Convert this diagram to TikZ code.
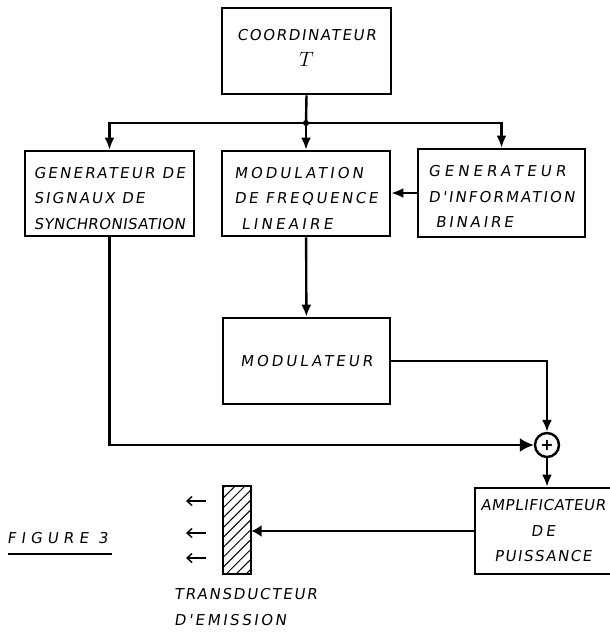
\documentclass[tikz,border=0pt]{standalone}
\usepackage{fontspec}
\setmainfont{DejaVu Sans}
\newfontfamily\handfont[LetterSpace=15,FakeSlant=0.15]{DejaVu Sans}
\newcommand{\esp}[1]{\addfontfeature{LetterSpace=#1}}
\usepackage{tikz}
\usetikzlibrary{arrows.meta}
\usetikzlibrary{patterns.meta}

\tikzset{
  bloc/.style={draw, line width=2.6pt, inner sep=1pt, align=left,
    font=\handfont\fontsize{15}{25.5}\selectfont},
  fleche/.style={line width=2.4pt, -{Latex[length=12pt,width=10pt]}},
  ecrit/.style={inner sep=0pt, font=\handfont\fontsize{15}{26}\selectfont},
}

\begin{document}
\begin{tikzpicture}[x=1pt,y=-1pt]
         \useasboundingbox (0,0) rectangle (610,632);
         \node[bloc, align=center, minimum width=169pt, minimum height=86pt] (coord) at (306.5,51)
              {{\esp{11}COORDINATEUR}\\{\fontsize{21}{25}\selectfont$T$}\rule[-6pt]{0pt}{1pt}};
         \node[bloc, minimum width=169pt, minimum height=85pt] (synchro) at (109.5,193.5)
              {\rule{0pt}{21pt}GENERATEUR DE\\{\esp{14}SIGNAUX DE}\\{\esp{3}SYNCHRONISATION}};
         \node[bloc, minimum width=168pt, minimum height=85pt] (modfreq) at (306,193.5)
              {\rule{0pt}{20pt}{\esp{20}MODULATION}\\{\esp{17}DE FREQUENCE}\\\ {\esp{22}LINEAIRE}};
         \node[bloc, minimum width=167pt, minimum height=88pt] (geninfo) at (501.5,193)
              {\rule{0pt}{18pt}{\esp{27}GENERATEUR}\\{\esp{14}D'INFORMATION}\\\ {\esp{19}BINAIRE}};
         \node[bloc, minimum width=167pt, minimum height=86pt] (modul) at (306.5,361)
              {{\esp{20}MODULATEUR}};
         \node[bloc, align=center, minimum width=136pt, minimum height=86pt] (ampli) at (543,531)
              {{\esp{4}AMPLIFICATEUR}\\{\esp{20}DE}\\{\esp{10}PUISSANCE}};
         \node[draw, circle, line width=2.4pt, minimum size=24pt, inner sep=0pt,
               font=\fontsize{16}{16}\selectfont\bfseries] (somme) at (547,445) {+};
         \node[draw, line width=2.6pt, minimum width=28pt, minimum height=88pt,
               pattern={Lines[angle=45,distance=7pt,line width=1pt]}] (transd) at (237,530) {};
         \coordinate (jonction) at (306,123);
         \draw[line width=2.4pt] (coord.south) -- (jonction);
         \fill (jonction) circle (3pt);
         \draw[fleche] (jonction) -| (synchro.north);
         \draw[fleche] (jonction) -- (modfreq.north);
         \draw[fleche] (jonction) -| (geninfo.north);
         \draw[fleche] (geninfo.west) -- (geninfo.west -| modfreq.east);
         \draw[fleche] (modfreq) -- (modul);
         \draw[line width=2.4pt, -{Latex[length=14pt,width=14pt]}] (synchro.south) |- (somme.west);
         \draw[fleche] (modul.east) -| (somme.north);
         \draw[fleche] (somme.south) -- (somme |- ampli.north);
         \draw[line width=2.8pt, -{Latex[length=10pt,width=12pt]}] (ampli.west) -- (ampli.west -| transd.east);
         \foreach \y in {501,533,558}{
         \draw[line width=1.4pt, -{Straight Barb[length=5pt,width=9pt]}] (206,\y) -- (186,\y);
         }
         \node[ecrit, anchor=west] (figure) at (7,538) {\esp{34}FIGURE 3};
         \draw[line width=1.3pt] (8,554) -- (112,554);
         \node[ecrit, anchor=north west, align=left] (legende) at (174,588)
              {{\esp{12}TRANSDUCTEUR}\\{\esp{17}D'EMISSION}};
\end{tikzpicture}
\end{document}
